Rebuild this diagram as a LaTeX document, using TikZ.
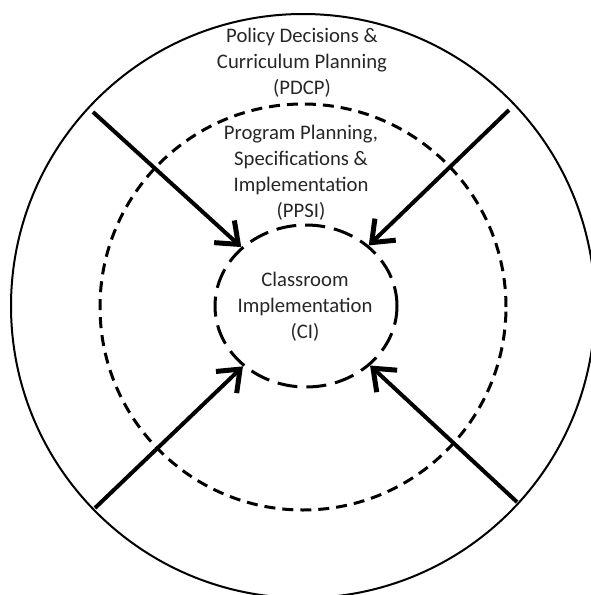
\documentclass[tikz,border=0pt]{standalone}
\usepackage{fontspec}
\setmainfont{Carlito}
\usetikzlibrary{arrows.meta,shapes.geometric}
\begin{document}
\begin{tikzpicture}[x=1pt,y=-1pt,
  ring/.style={circle,draw,inner sep=0pt},
  lbl/.style={align=center,font=\fontsize{20.7}{26}\selectfont,inner sep=0pt,text=black!85},
  >={Straight Barb[length=19pt,width=30pt,line width=5pt]},
  push/.style={line width=4pt,->}]
\useasboundingbox (0,0) rectangle (590,595);
\node[ring, line width=2pt, minimum size=584pt] (pdcp) at (303,306) {};
\node[ring, line width=3pt, dash pattern=on 11pt off 7pt, minimum size=406pt] (ppsi) at (303,307) {};
\node[ellipse, draw, line width=3pt, dash pattern=on 20pt off 9pt, minimum width=182pt, minimum height=162pt, inner sep=0pt] (ci) at (306,306) {};
\node[lbl] (tpdcp) at (302,63) {Policy Decisions \&\\Curriculum Planning\\(PDCP)};
\node[lbl] (tppsi) at (301,173) {Program Planning,\\Specifications \&\\Implementation\\(PPSI)};
\node[lbl] (tci) at (305,307) {Classroom\\Implementation\\(CI)};
\coordinate (a1) at (93,112);
\coordinate (a2) at (509,110);
\coordinate (a3) at (95,508);
\coordinate (a4) at (517,502);
\draw[push] (a1) -- (ci);
\draw[push] (a2) -- (ci);
\draw[push] (a3) -- (ci);
\draw[push] (a4) -- (ci);
\end{tikzpicture}
\end{document}
